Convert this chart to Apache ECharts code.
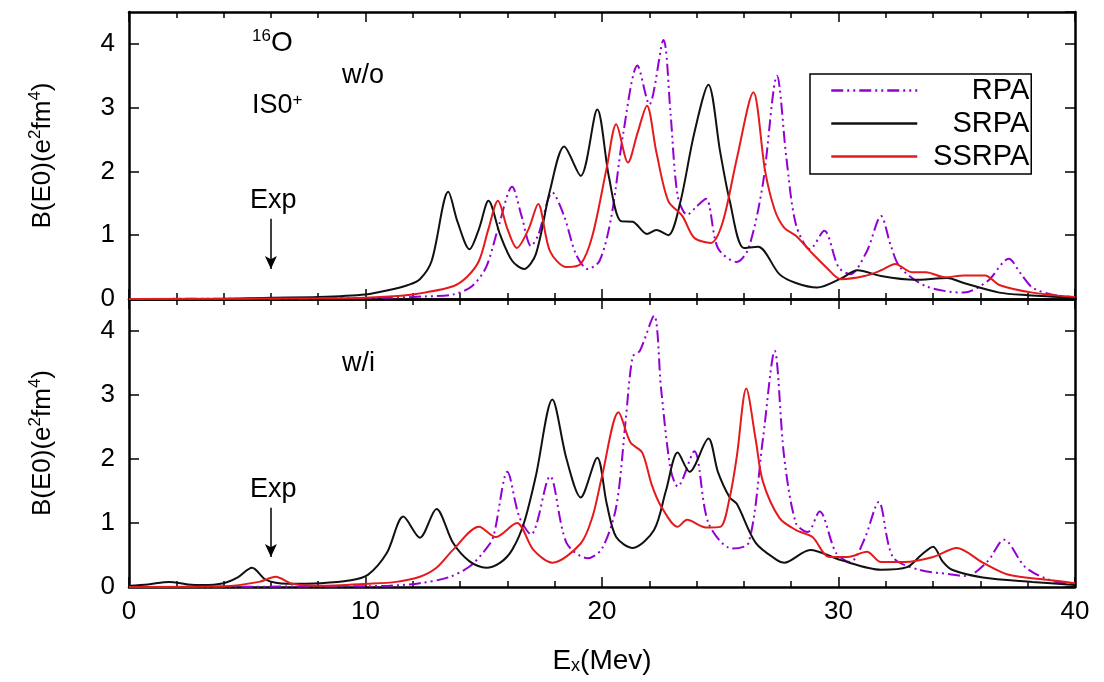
<!DOCTYPE html>
<html>
<head>
<meta charset="utf-8">
<script src="https://cdn.jsdelivr.net/npm/echarts@6/dist/echarts.min.js"></script>
<style>
  html, body { margin: 0; padding: 0; background: #fff; }
  #chart { width: 1104px; height: 682px; }
</style>
</head>
<body>
<div id="chart"></div>
<script>
// E_x (MeV), B(E0) pairs
// upper panel: w/o
const rpaWithout = [[0,0],[8,0.01],[11,0.02],[12.5,0.04],[13.7,0.07],[14.5,0.2],[15.1,0.5],[15.6,1.1],[16.2,1.76],[16.6,1.3],[17.0,0.83],[17.3,1.0],[17.9,1.67],[18.4,1.3],[18.9,0.7],[19.4,0.47],[19.9,0.6],[20.4,1.3],[20.9,2.6],[21.5,3.66],[22.0,3.05],[22.6,4.06],[22.9,2.9],[23.2,1.62],[23.6,1.32],[24.0,1.45],[24.4,1.57],[24.9,0.8],[25.7,0.58],[26.2,0.8],[26.8,1.8],[27.4,3.5],[27.8,2.2],[28.2,1.17],[28.8,0.78],[29.4,1.07],[30.0,0.5],[30.5,0.39],[31.2,0.75],[31.8,1.3],[32.2,0.85],[32.6,0.5],[33.7,0.2],[35.3,0.1],[36.3,0.28],[37.2,0.63],[37.7,0.4],[38.2,0.18],[39,0.07],[40,0.03]]
const srpaWithout = [[0,0],[4,0.005],[6,0.02],[8,0.03],[10,0.07],[11,0.14],[11.8,0.22],[12.3,0.31],[12.8,0.6],[13.5,1.68],[13.9,1.2],[14.4,0.78],[14.8,1.1],[15.2,1.54],[15.7,1.0],[16.2,0.6],[16.7,0.47],[17.2,0.7],[17.8,1.7],[18.4,2.39],[19.1,1.93],[19.8,2.97],[20.3,1.9],[20.8,1.22],[21.3,1.21],[21.9,1.02],[22.3,1.08],[22.8,1.0],[23.3,1.5],[23.9,2.6],[24.5,3.36],[25.0,2.3],[25.4,1.54],[26.0,0.8],[26.6,0.82],[27.5,0.39],[28.2,0.25],[29.1,0.18],[30.1,0.32],[30.8,0.45],[31.8,0.36],[33.2,0.3],[34.6,0.33],[35.3,0.25],[36.8,0.1],[38,0.06],[40,0.02]]
const ssrpaWithout = [[0,0],[8,0.01],[10,0.02],[11.5,0.05],[12.5,0.1],[13.7,0.2],[14.3,0.35],[14.8,0.6],[15.2,1.1],[15.6,1.54],[16.0,1.1],[16.4,0.8],[16.9,1.1],[17.3,1.49],[17.8,0.75],[18.5,0.5],[19.1,0.55],[19.6,1.0],[20.2,2.06],[20.6,2.74],[21.1,2.14],[21.5,2.6],[21.9,3.03],[22.3,2.3],[22.8,1.54],[23.4,1.3],[23.9,0.96],[24.6,0.88],[25.1,1.2],[25.7,2.2],[26.4,3.24],[26.9,2.0],[27.3,1.4],[27.7,1.12],[28.2,0.99],[28.8,0.75],[29.5,0.49],[30.1,0.31],[31.1,0.36],[31.8,0.45],[32.4,0.55],[33.1,0.42],[33.7,0.42],[34.5,0.34],[35.3,0.37],[36.2,0.37],[36.8,0.22],[38.2,0.1],[40,0.03]]

// lower panel: w/i
const rpaWith = [[0,0],[9,0.01],[11,0.02],[12.3,0.06],[13.5,0.15],[14.4,0.32],[15.0,0.55],[15.4,0.78],[16.0,1.8],[16.5,1.1],[17.0,0.82],[17.8,1.73],[18.5,0.69],[19.4,0.45],[20.0,0.6],[20.6,1.25],[21.0,2.6],[21.3,3.6],[21.6,3.69],[22.2,4.24],[22.5,3.09],[22.9,1.84],[23.2,1.57],[23.9,2.12],[24.5,1.0],[25.5,0.6],[26.2,0.69],[26.8,2.3],[27.3,3.69],[27.7,2.04],[28.2,1.0],[28.7,0.86],[29.2,1.18],[29.9,0.53],[30.5,0.39],[31.1,0.75],[31.7,1.33],[32.3,0.47],[33.4,0.27],[34.7,0.2],[35.4,0.17],[36.3,0.4],[37.0,0.74],[37.9,0.31],[39,0.1],[40,0.05]]
const srpaWith = [[0,0.02],[0.8,0.04],[1.7,0.08],[2.5,0.04],[3.1,0.03],[4.0,0.06],[4.6,0.15],[5.2,0.3],[5.8,0.11],[6.7,0.05],[8.1,0.06],[9.3,0.1],[10.1,0.19],[10.9,0.53],[11.6,1.1],[12.3,0.77],[13.0,1.22],[13.7,0.69],[14.4,0.4],[15.1,0.3],[15.7,0.38],[16.2,0.58],[16.7,1.0],[17.2,1.73],[17.9,2.93],[18.5,2.0],[19.1,1.4],[19.8,2.02],[20.2,1.3],[20.6,0.78],[21.3,0.61],[22.2,0.89],[22.7,1.5],[23.2,2.1],[23.7,1.8],[24.5,2.32],[24.9,1.8],[25.4,1.4],[25.7,1.3],[26.5,0.69],[27.4,0.42],[27.7,0.38],[28.8,0.58],[30.1,0.42],[31.8,0.27],[32.9,0.31],[33.5,0.5],[34.0,0.63],[34.4,0.4],[34.8,0.27],[36.1,0.15],[38.2,0.08],[40,0.03]]
const ssrpaWith = [[0,0],[4,0.01],[5.5,0.08],[6.2,0.16],[6.9,0.05],[8,0.02],[10.1,0.05],[11.3,0.08],[12.3,0.16],[13.0,0.3],[13.7,0.58],[14.8,0.94],[15.5,0.78],[16.4,1.0],[17.1,0.58],[17.9,0.38],[19.1,0.68],[19.6,1.1],[20.0,1.73],[20.7,2.73],[21.2,2.26],[21.7,2.1],[22.1,1.6],[22.5,1.26],[23.2,0.94],[23.6,1.05],[24.4,0.93],[25.0,0.94],[25.4,1.4],[25.7,2.04],[26.1,3.1],[26.5,2.3],[26.8,1.65],[27.5,1.08],[28.2,0.89],[28.9,0.78],[29.6,0.47],[30.4,0.47],[31.2,0.55],[31.8,0.39],[32.8,0.39],[34.0,0.47],[35.0,0.61],[36.1,0.38],[37.2,0.19],[38.9,0.11],[40,0.06]]

// experimental energy (arrow position) and axis ranges
const expEnergy = 6.0
const xRange = [0, 40]
const yRange = [0, 4.5]

const FONT = '"Liberation Sans", Arial, Helvetica, sans-serif'
const colors = { RPA: '#9400d3', SRPA: '#111111', SSRPA: '#e41a1c' }

const chart = echarts.init(document.getElementById('chart'), null, { renderer: 'canvas' })

// x axis for one grid edge
const makeX = (gridIndex, position, showLabel, name) => ({
  type: 'value',
  gridIndex,
  position,
  min: xRange[0],
  max: xRange[1],
  interval: 10,
  axisLine: { show: true, onZero: false, lineStyle: { color: '#000', width: 2.5 } },
  axisTick: { show: true, inside: true, length: 10, lineStyle: { color: '#000', width: 1.5 } },
  minorTick: { show: true, splitNumber: 5, length: 6, lineStyle: { color: '#000', width: 1.5 } },
  splitLine: { show: false },
  axisLabel: { show: showLabel, fontSize: 26, color: '#000', fontFamily: FONT, margin: 12 },
  name: name || '',
  nameLocation: 'middle',
  nameGap: 60,
  nameTextStyle: {
    fontSize: 28, color: '#000', fontFamily: FONT,
    rich: { sub: { fontSize: 18, fontFamily: FONT, verticalAlign: 'bottom', lineHeight: 18 } }
  }
})

// y axis for one grid side
const makeY = (gridIndex, position, showLabel) => ({
  type: 'value',
  gridIndex,
  position,
  min: yRange[0],
  max: yRange[1],
  interval: 1,
  axisLine: { show: true, onZero: false, lineStyle: { color: '#000', width: 2.5 } },
  axisTick: { show: true, inside: true, length: 10, lineStyle: { color: '#000', width: 1.5 } },
  splitLine: { show: false },
  axisLabel: { show: showLabel, showMaxLabel: false, fontSize: 26, color: '#000', fontFamily: FONT, margin: 14 },
  name: showLabel ? 'B(E0)(e{sup|2}fm{sup|4})' : '',
  nameLocation: 'middle',
  nameGap: 70,
  nameTextStyle: {
    fontSize: 26, color: '#000', fontFamily: FONT, lineHeight: 32,
    rich: { sup: { fontSize: 17, fontFamily: FONT, verticalAlign: 'top', lineHeight: 16 } }
  }
})

const makeSeries = (name, data, axisIdx, extra) => Object.assign({
  name,
  type: 'line',
  xAxisIndex: axisIdx,
  yAxisIndex: axisIdx,
  data,
  smooth: 0.3,
  symbol: 'none',
  lineStyle: { color: colors[name], width: 2, type: name === 'RPA' ? [12, 4, 2, 4, 2, 4] : 'solid' },
  itemStyle: { color: colors[name] },
  z: name === 'RPA' ? 2 : 3
}, extra || {})

// arrow pointing to the experimental energy
const expArrow = (yTop, yBottom) => ({
  markLine: {
    silent: true,
    symbol: ['none', 'arrow'],
    symbolSize: [9, 13],
    label: { show: false },
    lineStyle: { color: '#000', width: 1.5, type: 'solid' },
    data: [[{ coord: [expEnergy, yTop] }, { coord: [expEnergy, yBottom] }]]
  }
})

const txt = (left, top, text, size) => ({
  type: 'text',
  left, top,
  style: {
    text,
    fontSize: size || 27,
    fontFamily: FONT,
    fill: '#000',
    rich: {
      sup: { fontSize: 17, fontFamily: FONT, verticalAlign: 'top', lineHeight: 16, fill: '#000' },
      big: { fontSize: 28, fontFamily: FONT, lineHeight: 30, fill: '#000' }
    }
  }
})

const option = {
  animation: false,
  backgroundColor: '#fff',
  grid: [
    { left: 129, right: 29, top: 12, height: 287, outerBoundsMode: 'none' },
    { left: 129, right: 29, top: 299, height: 288, outerBoundsMode: 'none' }
  ],
  xAxis: [
    makeX(0, 'bottom', false),
    makeX(0, 'top', false),
    makeX(1, 'bottom', true, 'E{sub|x}(Mev)'),
    makeX(1, 'top', false)
  ],
  yAxis: [
    makeY(0, 'left', true),
    makeY(0, 'right', false),
    makeY(1, 'left', true),
    makeY(1, 'right', false)
  ],
  legend: {
    show: true,
    data: ['RPA', 'SRPA', 'SSRPA'],
    orient: 'vertical',
    left: 810,
    top: 74,
    padding: [2, 2, 3, 20],
    itemWidth: 86,
    itemHeight: 14,
    itemGap: 4,
    borderColor: '#000',
    borderWidth: 1.5,
    backgroundColor: '#fff',
    itemStyle: { opacity: 0 },
    lineStyle: { width: 2.5 },
    formatter: '{t|{name}}',
    textStyle: {
      fontSize: 29,
      fontFamily: FONT,
      color: '#000',
      rich: { t: { width: 107, align: 'right', fontSize: 29, fontFamily: FONT, color: '#000', lineHeight: 28 } }
    }
  },
  graphic: [
    txt(252, 28, '{sup|16}{big|O}'),
    txt(342, 62, 'w/o'),
    txt(252, 92, 'IS0{sup|+}'),
    txt(250, 187, 'Exp'),
    txt(342, 350, 'w/i'),
    txt(250, 476, 'Exp')
  ],
  series: [
    makeSeries('RPA', rpaWithout, 0),
    makeSeries('SRPA', srpaWithout, 0, expArrow(1.26, 0.47)),
    makeSeries('SSRPA', ssrpaWithout, 0),
    makeSeries('RPA', rpaWith, 2),
    makeSeries('SRPA', srpaWith, 2, expArrow(1.24, 0.47)),
    makeSeries('SSRPA', ssrpaWith, 2)
  ]
}

chart.setOption(option)
</script>
</body>
</html>
